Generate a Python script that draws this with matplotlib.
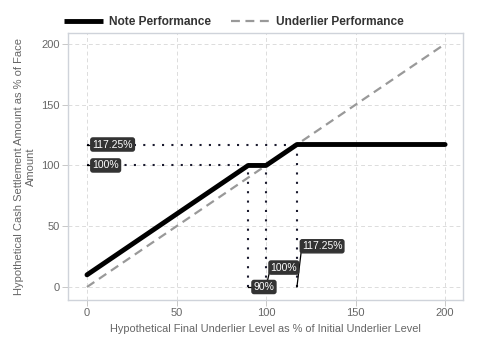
import matplotlib
matplotlib.use("Agg")
import matplotlib.pyplot as plt

plt.rcParams['font.family'] = ['Liberation Sans', 'DejaVu Sans']

note_x = [0, 90, 100, 117.25, 200]
note_y = [10, 100, 100, 117.25, 117.25]
und_x = [0, 200]
und_y = [0, 200]
xticks = [0, 50, 100, 150, 200]
yticks = [0, 50, 100, 150, 200]

# reference lines: (x0, y0, x1, y1)
hlines = [(117.25, 0, 117.25), (100, 0, 90)]
vlines = [(90, 0, 100), (100, 0, 100), (117.25, 0, 117.25)]

# labels: text, anchor point, label position
labels = [
    ("117.25%", (0, 117.25), (3, 117.25)),
    ("100%", (0, 100), (3, 100)),
    ("90%", (90, 0), (93, 0)),
    ("100%", (100, 0), (102.5, 16)),
    ("117.25%", (117.25, 0), (120, 33.5)),
]

fig = plt.figure(figsize=(4.8, 3.6), dpi=100)
ax = fig.add_axes([68/480, 60/360, 395/480, 267/360])

gray_grid = '#dcdcdc'
ax.grid(True, color=gray_grid, linestyle=(0, (4, 3)), linewidth=0.7)
ax.set_axisbelow(True)

for y, x0, x1 in hlines:
    ax.plot([x0, x1], [y, y], color='#1a1a2e', linestyle=(0, (1, 3.5)), linewidth=1.5, zorder=2)
for x, y0, y1 in vlines:
    ax.plot([x, x], [y0, y1], color='#1a1a2e', linestyle=(0, (1, 3.5)), linewidth=1.5, zorder=2)

ax.plot(und_x, und_y, color='#999999', linestyle=(0, (4, 2.5)), linewidth=1.6, zorder=3,
        label='Underlier Performance')
ax.plot(note_x, note_y, color='black', linewidth=3.5, zorder=4, label='Note Performance',
        solid_capstyle='round')

for txt, (ax0, ay0), (lx, ly) in labels:
    ax.plot([ax0, lx], [ay0, ly], color='black', linewidth=0.9, zorder=5)
    ax.text(lx, ly, txt, fontsize=7.5, color='white', ha='left', va='center', zorder=6,
            bbox=dict(boxstyle='round,pad=0.15,rounding_size=0.2', fc='#333333', ec='#333333'))

ax.set_xlim(-10.6, 210)
ax.set_ylim(-10.7, 209)
ax.set_xticks(xticks)
ax.set_yticks(yticks)
ax.tick_params(colors='#c8c8c8', labelcolor='#666666', labelsize=8, length=4, width=0.7, pad=2)
for s in ax.spines.values():
    s.set_color('#cfd3da')
    s.set_linewidth(1.0)

ax.set_xlabel('Hypothetical Final Underlier Level as % of Initial Underlier Level',
              fontsize=7.9, color='#666666', labelpad=4)
ax.set_ylabel('Hypothetical Cash Settlement Amount as % of Face\nAmount',
              fontsize=8, color='#666666', labelpad=4)

h, l = ax.get_legend_handles_labels()
leg = fig.legend([h[1], h[0]], [l[1], l[0]], loc='upper left', bbox_to_anchor=(53/480, 1 - 5/360),
                 ncol=2, frameon=False, prop={'weight': 'bold', 'size': 8.6},
                 handlelength=3.3, columnspacing=1.7, handletextpad=0.45)
for t in leg.get_texts():
    t.set_color('#333333')
leg.legend_handles[0].set_solid_capstyle('butt')

fig.savefig('out.png', dpi=100)
